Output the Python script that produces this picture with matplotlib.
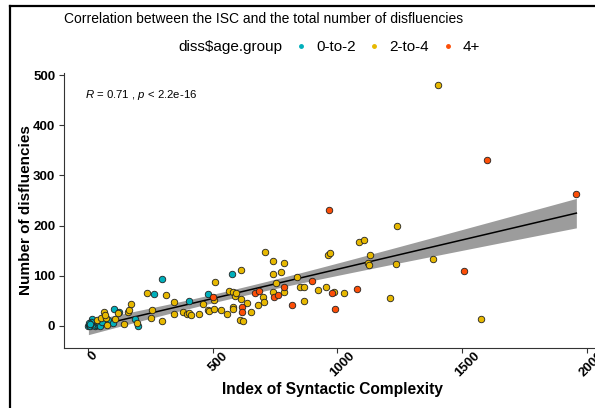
import numpy as np
import matplotlib
matplotlib.use("Agg")
import matplotlib.pyplot as plt
from matplotlib.lines import Line2D
from matplotlib.transforms import ScaledTranslation

plt.rcParams['font.family'] = ['Liberation Sans', 'DejaVu Sans']
plt.rcParams['mathtext.fontset'] = 'custom'
plt.rcParams['mathtext.it'] = 'Liberation Sans:italic'
plt.rcParams['mathtext.rm'] = 'Liberation Sans'

# data: index of syntactic complexity vs number of disfluencies
groups = ['0-to-2', '2-to-4', '4+']
colors = ['#00AFBB', '#E7B800', '#FC4E07']

isc_0to2 = [0, 4, 8, 12, 16, 20, 24, 28, 32, 36, 40, 44, 48, 10, 2, 6,
            56, 78, 100, 104, 124, 188, 200, 264, 296, 405, 481, 577]
dis_0to2 = [0, 2, 0, 4, 14, 1, 3, 0, 2, 5, 1, 3, 0, 8, 5, 3,
            8, 12, 6, 34, 28, 14, 0, 64, 94, 50, 64, 104]

isc_2to4 = [36, 52, 64, 72, 76, 68, 108, 120, 144, 160, 164, 172, 196, 236, 252,
            256, 296, 313, 345, 345, 381, 397, 405, 413, 445, 461, 481, 485, 505,
            505, 509, 533, 557, 565, 581, 581, 581, 589, 593, 609, 613, 613, 621,
            637, 653, 681, 701, 705, 709, 741, 741, 741, 753, 773, 785, 785, 837,
            849, 865, 865, 921, 954, 962, 970, 986, 1026, 1086, 1106, 1122, 1126,
            1130, 1210, 1234, 1238, 1382, 1402, 1578]
dis_2to4 = [12, 16, 28, 16, 2, 22, 14, 26, 4, 28, 32, 44, 6, 66, 16,
            32, 10, 62, 48, 24, 28, 24, 26, 22, 24, 44, 32, 30, 52,
            34, 88, 32, 24, 70, 68, 38, 34, 60, 66, 12, 112, 54, 10,
            46, 28, 42, 58, 48, 148, 130, 104, 68, 86, 108, 126, 68, 98,
            78, 78, 50, 72, 78, 141, 145, 68, 66, 167, 171, 125, 121,
            141, 56, 124, 199, 133, 480, 14]

isc_4plus = [501, 617, 617, 669, 685, 745, 761, 785, 817, 897, 966, 978, 990,
             1078, 1506, 1599, 1959]
dis_4plus = [58, 38, 28, 66, 70, 58, 62, 78, 42, 90, 231, 66, 34,
             74, 110, 331, 263]

xs = [isc_0to2, isc_2to4, isc_4plus]
ys = [dis_0to2, dis_2to4, dis_4plus]

# linear fit with 95% band, like geom_smooth(method = "lm")
x_all = np.array(isc_0to2 + isc_2to4 + isc_4plus, dtype=float)
y_all = np.array(dis_0to2 + dis_2to4 + dis_4plus, dtype=float)
slope, intercept = np.polyfit(x_all, y_all, 1)
n = len(x_all)
resid = y_all - (slope * x_all + intercept)
s = np.sqrt(np.sum(resid ** 2) / (n - 2))
sxx = np.sum((x_all - x_all.mean()) ** 2)
xg = np.linspace(x_all.min(), x_all.max(), 80)
yg = slope * xg + intercept
se = s * np.sqrt(1 / n + (xg - x_all.mean()) ** 2 / sxx)
t = 1.98

W, H = 595, 408
fig = plt.figure(figsize=(W / 100, H / 100), dpi=100)
ax = fig.add_axes([64 / W, 60 / H, (601 - 64) / W, (348 - 73) / H])

ax.fill_between(xg, yg - t * se, yg + t * se, color='#9c9c9c', lw=0, zorder=1)
ax.plot(xg, yg, color='black', lw=1.1, zorder=2)
for x, y, c in zip(xs, ys, colors):
    ax.scatter(x, y, s=22, c=c, edgecolors='#222222', linewidths=0.6, zorder=3)

ax.set_xlim(-98, 2058)
ax.set_ylim(-44, 504)
ax.set_xticks([0, 500, 1000, 1500, 2000])
ax.set_yticks([0, 100, 200, 300, 400, 500])
for sp in ['top', 'right']:
    ax.spines[sp].set_visible(False)
for sp in ['left', 'bottom']:
    ax.spines[sp].set_color('#333333')
    ax.spines[sp].set_linewidth(0.8)
ax.tick_params(length=3.3, width=0.8, color='#333333', pad=3)
ax.tick_params(axis='y', labelsize=9.5)
plt.setp(ax.get_yticklabels(), fontweight='bold')
shift = ScaledTranslation(5 / 100, 7 / 100, fig.dpi_scale_trans)
for lab in ax.get_xticklabels():
    lab.set_rotation(45)
    lab.set_ha('center')
    lab.set_va('top')
    lab.set_fontweight('bold')
    lab.set_fontsize(9.5)
    lab.set_transform(lab.get_transform() + shift)

ax.set_xlabel('Index of Syntactic Complexity', fontsize=11.2, fontweight='bold', labelpad=2)
ax.set_ylabel('Number of disfluencies', fontsize=11, fontweight='bold', labelpad=0)

ax.text(0.04, 0.92, r'$\it{R}$ = 0.71 , $\it{p}$ < 2.2e-16', transform=ax.transAxes,
        fontsize=8.2, ha='left', va='center')

fig.text(64 / W, 1 - 19 / H, 'Correlation between the ISC and the total number of disfluencies',
         fontsize=10, ha='left', va='center')
fig.text(178 / W, 1 - 47 / H, 'diss$age.group', fontsize=11, ha='left', va='center')
handles = [Line2D([], [], ls='', marker='o', ms=2.5, mfc=c, mec=c) for c in colors]
fig.legend(handles, groups, ncol=3, frameon=False, fontsize=11,
           loc='center left', bbox_to_anchor=(295 / W, 1 - 47 / H),
           borderaxespad=0, borderpad=0, handlelength=0.8, handletextpad=0.6,
           columnspacing=0.8)

# screenshot frame
fig.add_artist(Line2D([10 / W, 10 / W], [0, 1 - 6 / H], color='black', lw=1.6,
                      transform=fig.transFigure))
fig.add_artist(Line2D([10 / W, 1], [1 - 6 / H, 1 - 6 / H], color='black', lw=1.6,
                      transform=fig.transFigure))

fig.savefig('out.png', dpi=100)
